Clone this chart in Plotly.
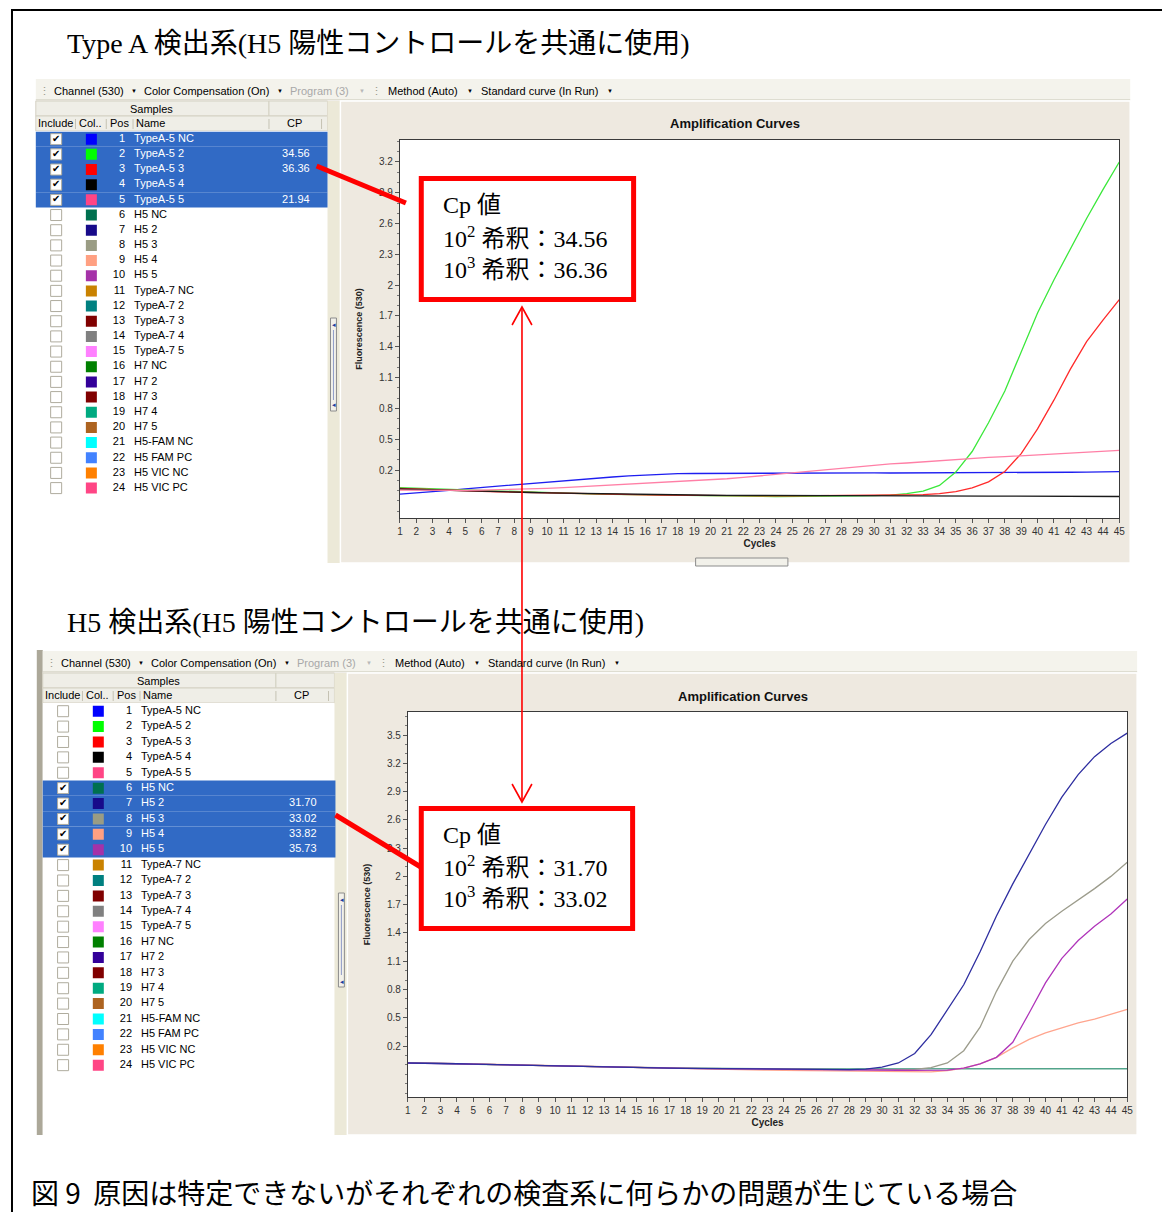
import plotly.graph_objects as go

# The page body has an 8px margin; the figure is sized to fit inside it and
# reference-pixel positions are mapped with that offset.
OFF = 8
W, H = 1154, 1204
def px(x): return (x - OFF) / W
def py(y): return 1 - (y - OFF) / H

# ---------------- data ----------------
cycles = list(range(1, 46))

positions = list(range(1, 25))
sample_names = ["TypeA-5 NC", "TypeA-5 2", "TypeA-5 3", "TypeA-5 4", "TypeA-5 5",
                "H5 NC", "H5 2", "H5 3", "H5 4", "H5 5",
                "TypeA-7 NC", "TypeA-7 2", "TypeA-7 3", "TypeA-7 4", "TypeA-7 5",
                "H7 NC", "H7 2", "H7 3", "H7 4", "H7 5",
                "H5-FAM NC", "H5 FAM PC", "H5 VIC NC", "H5 VIC PC"]
sample_colors = ["#0000FF", "#00FF00", "#FF0000", "#000000", "#FF4585",
                 "#00704F", "#170A8A", "#9A9C84", "#FFA082", "#A532A8",
                 "#C98200", "#008080", "#800000", "#808080", "#FF80FF",
                 "#008000", "#330099", "#800000", "#00AA80", "#AD6320",
                 "#00FFFF", "#4282FF", "#FF8000", "#FF4585"]
top_included = [True] * 5 + [False] * 19
bottom_included = [False] * 5 + [True] * 5 + [False] * 14
top_cp = ["", "34.56", "36.36", "", "21.94"] + [""] * 19
bottom_cp = [""] * 6 + ["31.70", "33.02", "33.82", "35.73"] + [""] * 14

# top chart (Type A detection): samples 1-5
top_nc = [-0.035, -0.024, -0.012, 0.002, 0.017, 0.030, 0.043, 0.057, 0.072, 0.086,
          0.097, 0.109, 0.120, 0.132, 0.142, 0.151, 0.158, 0.164, 0.166, 0.167,
          0.169, 0.170, 0.170, 0.171, 0.172, 0.172, 0.173, 0.174, 0.173, 0.172,
          0.171, 0.171, 0.172, 0.172, 0.173, 0.174, 0.174, 0.175, 0.175, 0.176,
          0.177, 0.178, 0.180, 0.182, 0.184]
top_s2 = [0.027, 0.022, 0.015, 0.008, 0.002, -0.004, -0.009, -0.013, -0.018, -0.022,
          -0.026, -0.030, -0.034, -0.037, -0.040, -0.042, -0.044, -0.047, -0.049, -0.051,
          -0.054, -0.056, -0.057, -0.058, -0.058, -0.058, -0.057, -0.055, -0.052, -0.049,
          -0.044, -0.030, -0.005, 0.050, 0.180, 0.380, 0.660, 0.970, 1.350, 1.730,
          2.050, 2.350, 2.650, 2.930, 3.200]
top_s3 = [0.020, 0.016, 0.010, 0.004, -0.002, -0.007, -0.012, -0.016, -0.020, -0.024,
          -0.028, -0.032, -0.035, -0.038, -0.040, -0.042, -0.044, -0.046, -0.048, -0.050,
          -0.051, -0.052, -0.052, -0.052, -0.052, -0.051, -0.051, -0.050, -0.050, -0.049,
          -0.048, -0.045, -0.040, -0.030, -0.010, 0.025, 0.085, 0.185, 0.360, 0.600,
          0.880, 1.180, 1.450, 1.660, 1.860]
top_s4 = [0.015, 0.010, 0.006, 0.002, -0.003, -0.007, -0.011, -0.015, -0.019, -0.022,
          -0.025, -0.028, -0.031, -0.034, -0.037, -0.040, -0.042, -0.044, -0.045, -0.046,
          -0.047, -0.047, -0.047, -0.048, -0.048, -0.048, -0.048, -0.048, -0.048, -0.048,
          -0.049, -0.050, -0.052, -0.053, -0.053, -0.054, -0.054, -0.055, -0.055, -0.056,
          -0.056, -0.057, -0.057, -0.058, -0.058]
top_s5 = [0.004, 0.002, 0.000, 0.000, 0.002, 0.004, 0.007, 0.011, 0.016, 0.022,
          0.029, 0.037, 0.045, 0.053, 0.060, 0.068, 0.076, 0.085, 0.093, 0.102,
          0.115, 0.128, 0.143, 0.158, 0.174, 0.190, 0.203, 0.216, 0.233, 0.249,
          0.259, 0.268, 0.280, 0.291, 0.302, 0.314, 0.322, 0.330, 0.338, 0.347,
          0.355, 0.363, 0.373, 0.383, 0.392]
top_series = [top_nc, top_s2, top_s3, top_s4, top_s5]
top_series_names = ["TypeA-5 NC", "TypeA-5 2", "TypeA-5 3", "TypeA-5 4", "TypeA-5 5"]
top_line_colors = ["#1E1EF0", "#3BE83B", "#FF2A2A", "#1A1A1A", "#FF7FA6"]

# bottom chart (H5 detection): samples 6-10
bot_nc = [0.022, 0.020, 0.017, 0.013, 0.008, 0.004, 0.000, -0.004, -0.008, -0.012,
          -0.016, -0.019, -0.022, -0.025, -0.028, -0.031, -0.034, -0.036, -0.038, -0.040,
          -0.041, -0.041, -0.042, -0.042, -0.042, -0.042, -0.042, -0.042, -0.042, -0.041,
          -0.041, -0.041, -0.041, -0.041, -0.041, -0.041, -0.041, -0.041, -0.041, -0.041,
          -0.041, -0.041, -0.041, -0.041, -0.041]
bot_s2 = [0.020, 0.019, 0.016, 0.012, 0.007, 0.003, -0.001, -0.005, -0.009, -0.013,
          -0.017, -0.020, -0.023, -0.026, -0.029, -0.032, -0.035, -0.037, -0.039, -0.041,
          -0.043, -0.045, -0.047, -0.048, -0.049, -0.050, -0.050, -0.050, -0.045, -0.025,
          0.020, 0.120, 0.320, 0.580, 0.850, 1.200, 1.580, 1.920, 2.240, 2.550,
          2.840, 3.080, 3.270, 3.410, 3.520]
bot_s3 = [0.021, 0.020, 0.017, 0.013, 0.008, 0.004, 0.000, -0.004, -0.008, -0.012,
          -0.016, -0.019, -0.022, -0.025, -0.028, -0.031, -0.034, -0.036, -0.038, -0.040,
          -0.042, -0.044, -0.046, -0.047, -0.048, -0.049, -0.050, -0.050, -0.050, -0.050,
          -0.050, -0.048, -0.030, 0.020, 0.150, 0.400, 0.780, 1.100, 1.330, 1.500,
          1.630, 1.750, 1.870, 2.000, 2.150]
bot_s4 = [0.022, 0.021, 0.018, 0.014, 0.009, 0.005, 0.001, -0.003, -0.007, -0.011,
          -0.015, -0.019, -0.023, -0.027, -0.031, -0.035, -0.039, -0.043, -0.046, -0.049,
          -0.052, -0.054, -0.056, -0.058, -0.060, -0.061, -0.062, -0.063, -0.064, -0.066,
          -0.070, -0.075, -0.075, -0.060, -0.035, 0.010, 0.080, 0.180, 0.270, 0.340,
          0.395, 0.445, 0.485, 0.535, 0.590]
bot_s5 = [0.018, 0.018, 0.016, 0.012, 0.007, 0.003, -0.001, -0.005, -0.009, -0.013,
          -0.017, -0.020, -0.023, -0.026, -0.029, -0.032, -0.035, -0.038, -0.040, -0.042,
          -0.044, -0.046, -0.048, -0.050, -0.052, -0.053, -0.054, -0.055, -0.055, -0.055,
          -0.057, -0.058, -0.060, -0.055, -0.035, 0.010, 0.080, 0.240, 0.550, 0.870,
          1.130, 1.320, 1.470, 1.600, 1.760]
bot_series = [bot_nc, bot_s4, bot_s3, bot_s5, bot_s2]
bot_series_names = ["H5 NC", "H5 4", "H5 3", "H5 5", "H5 2"]
bot_line_colors = ["#52A48A", "#FFA58E", "#9C9C8C", "#B035BA", "#2E2EA0"]

top_yticks = [0.2, 0.5, 0.8, 1.1, 1.4, 1.7, 2.0, 2.3, 2.6, 2.9, 3.2]
top_yticktext = ["0.2", "0.5", "0.8", "1.1", "1.4", "1.7", "2", "2.3", "2.6", "2.9", "3.2"]
bot_yticks = [0.2, 0.5, 0.8, 1.1, 1.4, 1.7, 2.0, 2.3, 2.6, 2.9, 3.2, 3.5]
bot_yticktext = ["0.2", "0.5", "0.8", "1.1", "1.4", "1.7", "2", "2.3", "2.6", "2.9", "3.2", "3.5"]

# ---------------- style ----------------
SANS = "Liberation Sans, Arial, sans-serif"
SERIF_JP = "Liberation Serif, Noto Sans CJK JP, serif"
JP = "Noto Sans CJK JP, sans-serif"
SEL = "#316AC5"
TOOLBAR = "#F4F3EC"
HEADER = "#EFEEE7"
PANEL = "#EEE9E0"
GUTTER = "#ECE9D8"
REDC = "#FF0000"

fig = go.Figure()

def rect(x0, y0, x1, y1, fill, line=None, lw=0, layer="below"):
    fig.add_shape(type="rect", xref="paper", yref="paper",
                  x0=px(x0), x1=px(x1), y0=py(y1), y1=py(y0),
                  fillcolor=fill, line=dict(color=line or fill, width=lw), layer=layer)

def hline(x0, x1, y, color, w=1, layer="below"):
    fig.add_shape(type="line", xref="paper", yref="paper", x0=px(x0), x1=px(x1),
                  y0=py(y), y1=py(y), line=dict(color=color, width=w), layer=layer)

def vline(x, y0, y1, color, w=1, layer="below"):
    fig.add_shape(type="line", xref="paper", yref="paper", x0=px(x), x1=px(x),
                  y0=py(y0), y1=py(y1), line=dict(color=color, width=w), layer=layer)

def ann(x, y, text, size=11, color="#000", xanchor="left", family=SANS, yanchor="middle"):
    fig.add_annotation(x=px(x), y=py(y), xref="paper", yref="paper", text=text,
                       showarrow=False, xanchor=xanchor, yanchor=yanchor,
                       font=dict(size=size, color=color, family=family), borderpad=0)

# ---------------- screenshot frames ----------------
def screenshot(ox, top, bottom, right, tb_text_x, left_bar=False):
    tb_b = top + 22
    if left_bar:
        rect(ox - 6, top - 1, ox, bottom, "#ACA899")
    rect(ox, top, right, tb_b, TOOLBAR)
    hline(ox, right, tb_b - 1, "#C9C6B6", 1)
    hline(ox, right, tb_b, "#FFFFFF", 1)
    tx = tb_text_x
    ann(tx - 15, top + 12, "⋮", 11, "#9A9888")
    ann(tx, top + 12, "Channel (530)", 11)
    ann(tx + 78, top + 12, "▼", 6)
    ann(tx + 91, top + 12, "Color Compensation (On)", 11)
    ann(tx + 225, top + 12, "▼", 6)
    ann(tx + 238, top + 12, "Program (3)", 11, "#A8A8A8")
    ann(tx + 308, top + 12, "▼", 6, "#B8B8B8")
    ann(tx + 320, top + 12, "⋮", 11, "#9A9888")
    ann(tx + 337, top + 12, "Method (Auto)", 11)
    ann(tx + 417, top + 12, "▼", 6)
    ann(tx + 431, top + 12, "Standard curve (In Run)", 11)
    ann(tx + 558, top + 12, "▼", 6)
    # table headers
    tw = 294
    rect(ox, tb_b, ox + 235, tb_b + 15, HEADER, "#D4D1C3", 1)
    rect(ox + 235, tb_b, ox + tw, tb_b + 15, HEADER, "#D4D1C3", 1)
    ann(ox + 117, tb_b + 7.5, "Samples", 11, xanchor="center")
    rect(ox, tb_b + 15, ox + tw, tb_b + 30, HEADER, "#D4D1C3", 1)
    for sx in [40, 71, 98, 235, 288]:
        vline(ox + sx, tb_b + 18, tb_b + 28, "#C5C2B3", 1)
    ann(ox + 1, tb_b + 22.5, "Include", 11)
    ann(ox + 43, tb_b + 22.5, "Col..", 11)
    ann(ox + 74, tb_b + 22.5, "Pos", 11)
    ann(ox + 100, tb_b + 22.5, "Name", 11)
    ann(ox + 261, tb_b + 22.5, "CP", 11, xanchor="center")
    # white table body
    rect(ox, tb_b + 30, ox + tw, bottom, "#FFFFFF")
    # gutter
    rect(ox + tw, tb_b, ox + tw + 13, bottom, GUTTER)
    # chart panel
    rect(ox + tw + 13, tb_b, right, bottom, PANEL, "#FFFFFF", 1.5)

screenshot(33, 79, 563, 1136, 50)
screenshot(40, 651, 1135, 1143, 57, left_bar=True)

# scroll handles
rect(330, 318, 336, 411, "#F2F1EA", "#8C8C8C", 1)
ann(331, 324, "◂", 7, "#1B3C9E")
ann(331, 404, "◂", 7, "#1B3C9E")
vline(333, 330, 400, "#8E9BC8", 1)
rect(338, 893, 344, 987, "#F2F1EA", "#8C8C8C", 1)
ann(339, 899, "◂", 7, "#1B3C9E")
ann(339, 981, "◂", 7, "#1B3C9E")
vline(341, 905, 975, "#8E9BC8", 1)
rect(698, 558, 791, 566, "#F2F1EA", "#8C8C8C", 1)

# white plot areas
rect(400, 140, 1125, 518, "#FFFFFF")
rect(408, 712, 1133, 1097, "#FFFFFF")

# ---------------- tables (via hidden axes) ----------------
def add_table(xa, ya, ox, included, cps):
    for r, inc in zip(positions, included):
        if inc:
            fig.add_shape(type="rect", xref=f"{xa} domain", yref=ya, x0=0, x1=1,
                          y0=r - 0.5, y1=r + 0.5, fillcolor=SEL, line_width=0, layer="below")
    txtcol = ["#FFFFFF" if inc else "#000000" for inc in included]
    fig.add_trace(go.Scatter(x=[ox + 20.5] * len(positions), y=positions, mode="markers",
                             marker=dict(symbol="square", size=11, color="#FFFFFF",
                                         line=dict(color="#AFAC9E", width=1)),
                             xaxis=xa, yaxis=ya, hoverinfo="skip", showlegend=False))
    chk_y = [r for r, inc in zip(positions, included) if inc]
    fig.add_trace(go.Scatter(x=[ox + 20.5] * len(chk_y), y=chk_y, mode="text", text=["✔"] * len(chk_y),
                             textfont=dict(size=10, color="#000000", family="DejaVu Sans"),
                             xaxis=xa, yaxis=ya, hoverinfo="skip", showlegend=False))
    fig.add_trace(go.Scatter(x=[ox + 56] * len(positions), y=positions, mode="markers",
                             marker=dict(symbol="square", size=11, color=sample_colors, line=dict(width=0)),
                             xaxis=xa, yaxis=ya, hoverinfo="skip", showlegend=False))
    fig.add_trace(go.Scatter(x=[ox + 90] * len(positions), y=positions, mode="text",
                             text=[str(p) for p in positions], textposition="middle left",
                             textfont=dict(size=11, color=txtcol, family=SANS),
                             xaxis=xa, yaxis=ya, hoverinfo="skip", showlegend=False, cliponaxis=False))
    fig.add_trace(go.Scatter(x=[ox + 99] * len(positions), y=positions, mode="text",
                             text=sample_names, textposition="middle right",
                             textfont=dict(size=11, color=txtcol, family=SANS),
                             xaxis=xa, yaxis=ya, hoverinfo="skip", showlegend=False, cliponaxis=False))
    cp_rows = [r for r, c in zip(positions, cps) if c]
    cp_vals = [c for c in cps if c]
    cp_cols = [txtcol[r - 1] for r in cp_rows]
    fig.add_trace(go.Scatter(x=[ox + 276] * len(cp_rows), y=cp_rows, mode="text",
                             text=cp_vals, textposition="middle left",
                             textfont=dict(size=11, color=cp_cols, family=SANS),
                             xaxis=xa, yaxis=ya, hoverinfo="skip", showlegend=False, cliponaxis=False))

add_table("x3", "y3", 33, top_included, top_cp)
add_table("x4", "y4", 40, bottom_included, bottom_cp)

# ---------------- curves ----------------
for vals, nm, col in zip(top_series, top_series_names, top_line_colors):
    fig.add_trace(go.Scatter(x=cycles, y=vals, mode="lines", name=nm,
                             line=dict(color=col, width=1.3), xaxis="x", yaxis="y", showlegend=False))
for vals, nm, col in zip(bot_series, bot_series_names, bot_line_colors):
    fig.add_trace(go.Scatter(x=cycles, y=vals, mode="lines", name=nm,
                             line=dict(color=col, width=1.3), xaxis="x2", yaxis="y2", showlegend=False))

tickfont = dict(size=10, color="#333333", family=SANS)
def xax(dom, anchor):
    return dict(domain=dom, anchor=anchor, range=[1, 45], tickvals=cycles, ticktext=[str(c) for c in cycles],
                tickangle=0, ticks="outside", ticklen=4, tickcolor="#555", tickfont=tickfont,
                showline=True, mirror=True, linecolor="#3A3A3A", linewidth=1, showgrid=False, zeroline=False,
                title=dict(text="<b>Cycles</b>", font=dict(size=10, color="#222", family=SANS), standoff=3))
def yax(dom, anchor, rng, tv, tt):
    return dict(domain=dom, anchor=anchor, range=rng, tickvals=tv, ticktext=tt,
                ticks="outside", ticklen=4, tickcolor="#555", tickfont=tickfont,
                minor=dict(dtick=0.1, tick0=0.2, ticks="outside", ticklen=2, tickcolor="#777", showgrid=False),
                showline=True, mirror=True, linecolor="#3A3A3A", linewidth=1, showgrid=False, zeroline=False,
                title=dict(text="<b>Fluorescence (530)</b>", font=dict(size=9, color="#222", family=SANS), standoff=14))

hidden = dict(visible=False, showgrid=False, zeroline=False, fixedrange=True)

fig.update_layout(
    width=W, height=H, margin=dict(l=0, r=0, t=0, b=0),
    paper_bgcolor="#FFFFFF", plot_bgcolor="#FFFFFF", showlegend=False,
    xaxis=xax([px(400), px(1125)], "y"),
    yaxis=yax([py(518), py(140)], "x", [-0.2675, 3.414], top_yticks, top_yticktext),
    xaxis2=xax([px(408), px(1133)], "y2"),
    yaxis2=yax([py(1097), py(712)], "x2", [-0.341, 3.744], bot_yticks, bot_yticktext),
    xaxis3=dict(domain=[px(33), px(327)], anchor="y3", range=[33, 327], **hidden),
    yaxis3=dict(domain=[py(563), py(131.6)], anchor="x3", range=[0.5 + (563 - 131.6) / 15.17, 0.5], **hidden),
    xaxis4=dict(domain=[px(40), px(335)], anchor="y4", range=[40, 335], **hidden),
    yaxis4=dict(domain=[py(1135), py(703.5)], anchor="x4", range=[0.5 + (1135 - 703.5) / 15.39, 0.5], **hidden),
)

# chart titles
ann(738, 124, "<b>Amplification Curves</b>", 13, "#111", xanchor="center")
ann(746, 696, "<b>Amplification Curves</b>", 13, "#111", xanchor="center")

# ---------------- page decorations ----------------
hline(8, 1170, 10, "#000000", 2, layer="above")
vline(9, 9, 1220, "#000000", 2, layer="above")

ann(63, 43, "Type A 検出系(H5 陽性コントロールを共通に使用)", 28, "#000", family=SERIF_JP)
ann(63, 622, "H5 検出系(H5 陽性コントロールを共通に使用)", 28, "#000", family=SERIF_JP)
ann(27, 1192, "図 9  原因は特定できないがそれぞれの検査系に何らかの問題が生じている場合", 28, "#000", family=JP)

# red connectors
fig.add_shape(type="line", xref="paper", yref="paper", x0=px(316), y0=py(166), x1=px(406), y1=py(203),
              line=dict(color=REDC, width=5), layer="above")
fig.add_shape(type="line", xref="paper", yref="paper", x0=px(335), y0=py(815), x1=px(421), y1=py(867),
              line=dict(color=REDC, width=5), layer="above")
# red boxes
for (x0, y0, x1, y1) in [(421.5, 178.5, 635.5, 299.5), (421.5, 808.5, 634.5, 928.5)]:
    fig.add_shape(type="rect", xref="paper", yref="paper", x0=px(x0), x1=px(x1), y0=py(y1), y1=py(y0),
                  fillcolor="#FFFFFF", line=dict(color=REDC, width=5), layer="above")
# double arrow
fig.add_shape(type="line", xref="paper", yref="paper", x0=px(523), x1=px(523), y0=py(307), y1=py(802),
              line=dict(color=REDC, width=1.6), layer="above")
fig.add_shape(type="path", xref="paper", yref="paper",
              path=f"M {px(513)},{py(325)} L {px(523)},{py(307)} L {px(533)},{py(325)}",
              line=dict(color=REDC, width=1.6), layer="above")
fig.add_shape(type="path", xref="paper", yref="paper",
              path=f"M {px(513)},{py(784)} L {px(523)},{py(802)} L {px(533)},{py(784)}",
              line=dict(color=REDC, width=1.6), layer="above")

# red box texts
ann(442, 205, "Cp 値", 24, family=SERIF_JP)
ann(442, 237, f"10<sup>2</sup> 希釈：{top_cp[1]}", 24, family=SERIF_JP)
ann(442, 268, f"10<sup>3</sup> 希釈：{top_cp[2]}", 24, family=SERIF_JP)
ann(442, 835, "Cp 値", 24, family=SERIF_JP)
ann(442, 866, f"10<sup>2</sup> 希釈：{bottom_cp[6]}", 24, family=SERIF_JP)
ann(442, 897, f"10<sup>3</sup> 希釈：{bottom_cp[7]}", 24, family=SERIF_JP)

fig.write_html("out.html")
